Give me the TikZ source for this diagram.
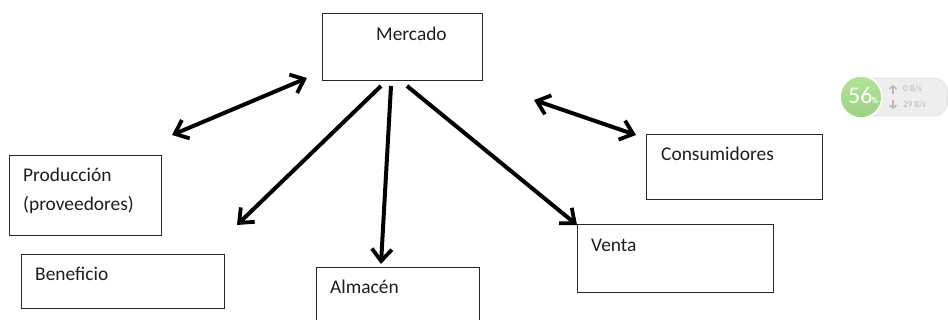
\documentclass[tikz,border=0pt]{standalone}
\usepackage{fontspec}
\setmainfont{Carlito}
\usetikzlibrary{arrows.meta,shadings}
\definecolor{boxline}{RGB}{40,40,40}
\definecolor{txt}{RGB}{30,30,30}
\definecolor{pillfill}{RGB}{238,238,238}
\definecolor{pillline}{RGB}{226,226,226}
\definecolor{pilltxt}{RGB}{185,185,185}
\definecolor{gaugetop}{RGB}{176,230,146}
\definecolor{gaugebot}{RGB}{156,208,136}
\tikzset{
 x=1pt,y=-1pt,
 diagbox/.style={draw=boxline,line width=1pt,fill=white},
 lbl/.style={text=txt,font=\fontsize{19.4}{26}\selectfont,anchor=base west,inner sep=0pt,align=left},
 conn/.style={line width=4pt,black,-{Straight Barb[length=12pt,width=20pt,line width=3.8pt]}},
 bothconn/.style={line width=4pt,black,{Straight Barb[length=12pt,width=20pt,line width=3.8pt]}-{Straight Barb[length=12pt,width=20pt,line width=3.8pt]}},
 pilltext/.style={text=pilltxt,font=\fontsize{9}{9}\selectfont,anchor=west,inner sep=0pt},
}
\begin{document}
\begin{tikzpicture}
\useasboundingbox (0,0) rectangle (948,320);
\fill[white] (0,0) rectangle (948,320);
% boxes
\draw[diagbox] (322,14) rectangle (482,81);
\draw[diagbox] (9.5,156) rectangle (161.5,236);
\draw[diagbox] (21.5,255) rectangle (224.5,309);
\draw[diagbox] (316.5,268) rectangle (479.5,322);
\draw[diagbox] (577.5,225) rectangle (773.5,293);
\draw[diagbox] (646.5,135) rectangle (822.5,200);
% labels
\node[lbl] (mercado) at (376,40.5) {Mercado};
\node[lbl] (prod) at (23,181.5) {Producción};
\node[lbl] (prov) at (23,210.5) {(proveedores)};
\node[lbl] (benef) at (35,280.5) {Beneficio};
\node[lbl] (almacen) at (330,293.5) {Almacén};
\node[lbl] (venta) at (591,251.5) {Venta};
\node[lbl] (consum) at (661,160.5) {Consumidores};
% connector ends
\coordinate (a1) at (307,78);
\coordinate (a2) at (172,135);
\coordinate (b1) at (381,86);
\coordinate (b2) at (237,225);
\coordinate (c1) at (391,86);
\coordinate (c2) at (381,264);
\coordinate (d1) at (407,86);
\coordinate (d2) at (577,225);
\coordinate (e1) at (534,100);
\coordinate (e2) at (636,135);
\draw[bothconn] (a1) -- (a2);
\draw[conn] (b1) -- (b2);
\draw[conn] (c1) -- (c2);
\draw[conn] (d1) -- (d2);
\draw[bothconn] (e1) -- (e2);
% gauge
\draw[pillline,fill=pillfill,line width=0.8pt,rounded corners=14pt] (860,78) rectangle (947.5,116);
\draw[white,line width=1.6pt,top color=gaugetop,bottom color=gaugebot] (861,97) circle (21);
\node[text=white,font=\fontsize{24}{24}\selectfont,inner sep=0pt,anchor=base west] (pct) at (848,104) {56};
\node[text=white,font=\bfseries\fontsize{9}{9}\selectfont,inner sep=0pt,anchor=base west] (pctsign) at (871.5,104) {\%};
\node[pilltext] (up) at (903,89) {0 B/s};
\node[pilltext] (down) at (903,105) {29 B/s};
\coordinate (u1) at (893,94); \coordinate (u2) at (893,85);
\coordinate (w1) at (893,100); \coordinate (w2) at (893,109);
\draw[pilltxt,line width=1.4pt,-{Straight Barb[length=3pt,width=7pt]}] (u1) -- (u2);
\draw[pilltxt,line width=1.4pt,-{Straight Barb[length=3pt,width=7pt]}] (w1) -- (w2);
\end{tikzpicture}
\end{document}
